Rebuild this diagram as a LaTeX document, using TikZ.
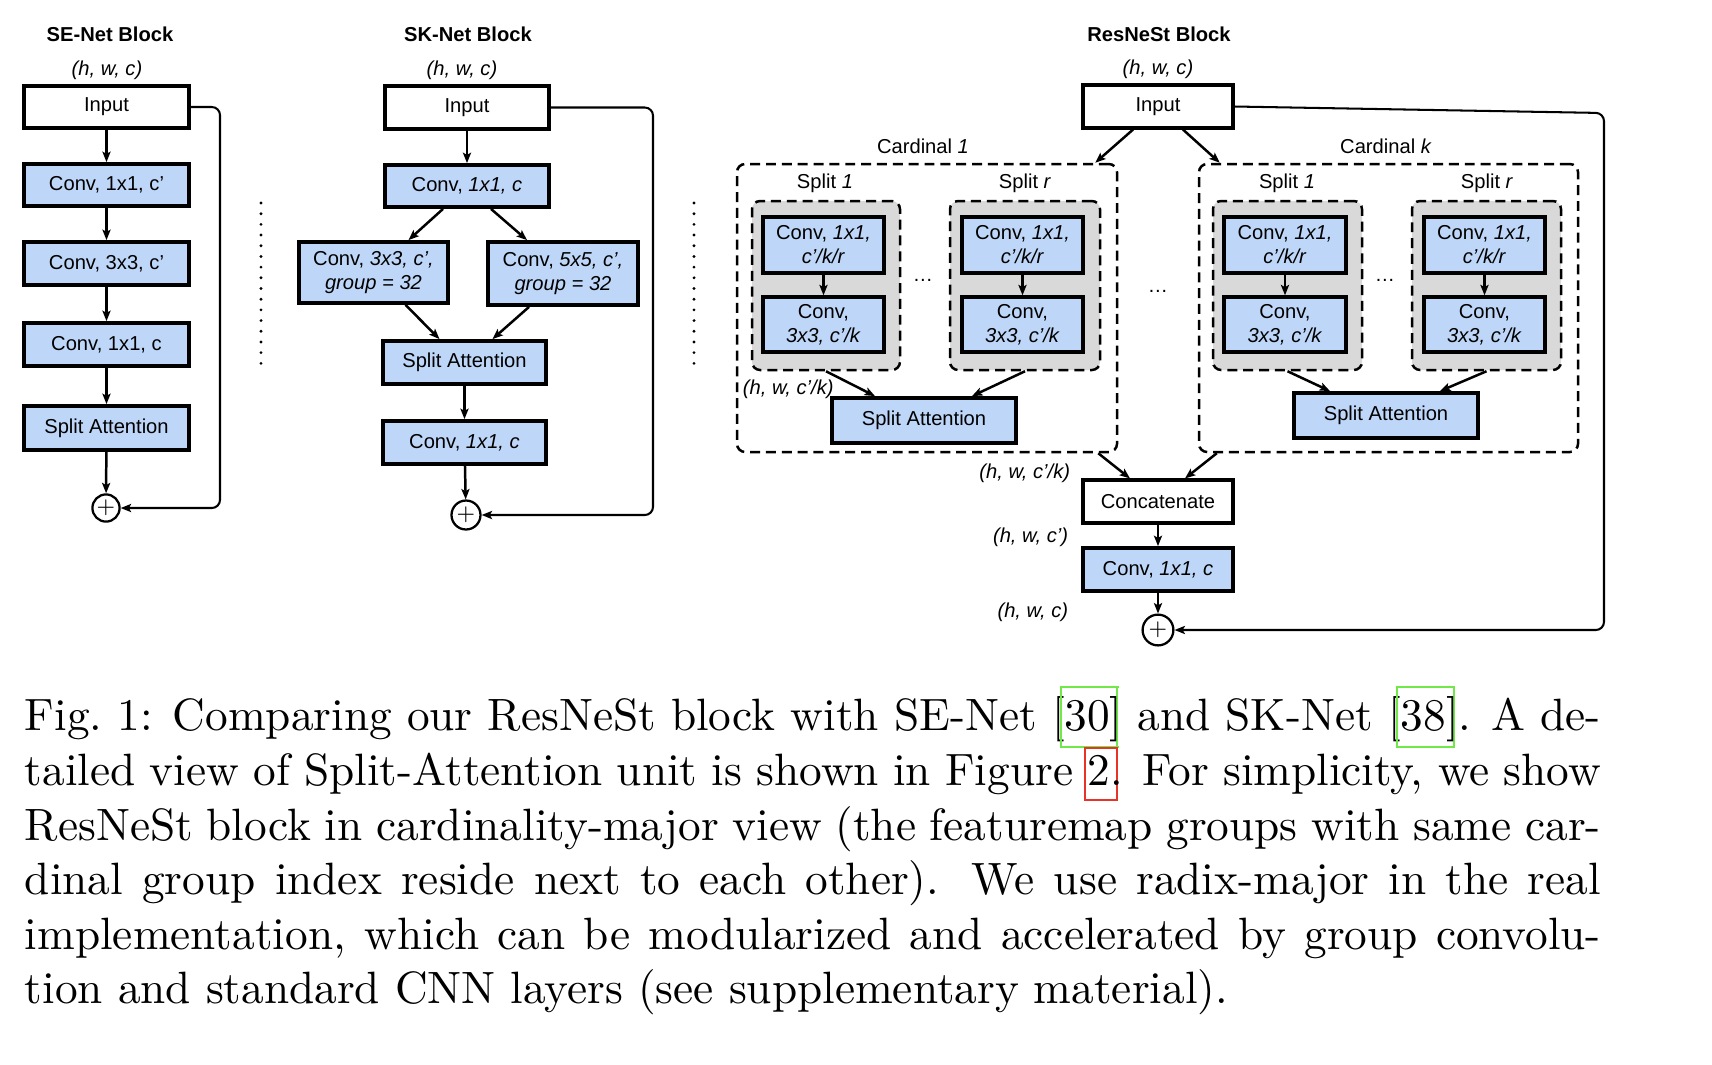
\documentclass[tikz,border=0pt]{standalone}
\usepackage{fontspec}
\newfontfamily\arialf{Liberation Sans}
\usetikzlibrary{arrows.meta,calc}
\definecolor{boxblue}{RGB}{190,215,248}
\definecolor{boxgray}{RGB}{217,217,217}
\definecolor{lnkgreen}{RGB}{112,232,72}
\definecolor{lnkred}{RGB}{232,52,40}
% link box: colour, height, depth, horizontal pad, text
\newcommand\lnk[5]{\rlap{\smash{\kern-#4\textcolor{#1}{\fboxsep=0pt\fboxrule=0.45pt\fbox{\rule[-#3]{0pt}{\dimexpr#2+#3\relax}\kern#4\phantom{#5}\kern#4}}}}#5}
\newcommand\dfont{\arialf\fontsize{4.45}{5.3}\selectfont}
% box from corner (x1,y1) to (x2,y2), in pixel units
\newcommand\bx[7]{\node[#1, minimum width={(#5-#3)*0.2208pt}, minimum height={(#6-#4)*0.2208pt}] (#2) at ({(#3+#5)/2},{(#4+#6)/2}) {#7};}
\begin{document}
\begin{tikzpicture}[x=0.2208pt,y=-0.2208pt,
  base/.style={draw, line width=0.85pt, inner sep=0pt, font=\dfont, align=center},
  blue/.style={base, fill=boxblue},
  inbox/.style={base, fill=white, line width=0.7pt},
  inner/.style={base, fill=boxblue, line width=0.75pt},
  card/.style={draw, dash pattern=on 2.2pt off 1.3pt, line width=0.55pt, rounded corners=1.8pt, inner sep=0pt},
  gray/.style={card, fill=boxgray},
  arr/.style={-{Stealth[length=2.3pt,width=1.8pt,inset=0.5pt]}, line width=0.55pt},
  skip/.style={arr, line width=0.45pt, rounded corners=1.8pt},
  plus/.style={circle, draw, fill=white, line width=0.5pt, minimum size=6.4pt, inner sep=0pt, font=\fontsize{4.2}{4.2}\selectfont},
  lbl/.style={font=\dfont\itshape, inner sep=0pt},
  txt/.style={font=\dfont, inner sep=0pt},
  ttl/.style={font=\dfont\bfseries, inner sep=0pt},
  sep/.style={line width=0.7pt, line cap=round, dash pattern=on 0pt off 2.36pt}
]
\useasboundingbox (0,0) rectangle (1712,1064);

% ---------------- SE-Net ----------------
\node[ttl] (se_t) at (110,34) {SE-Net Block};
\node[lbl] (se_d) at (107,70) {(h, w, c)};
\bx{inbox}{se_in}{24}{86}{189}{128}{Input}
\bx{blue}{se1}{24}{164}{189}{206}{Conv, 1x1, c’}
\bx{blue}{se2}{24}{242}{189}{285}{Conv, 3x3, c’}
\bx{blue}{se3}{24}{323}{189}{366}{Conv, 1x1, c}
\bx{blue}{se4}{24}{406}{189}{450}{Split Attention}
\node[plus, minimum size=6pt] (se_p) at (106,508) {+};
\draw[arr] (se_in) -- (se1);
\draw[arr] (se1) -- (se2);
\draw[arr] (se2) -- (se3);
\draw[arr] (se3) -- (se4);
\draw[arr] (se4) -- (se_p);
\coordinate (se_k) at (220,107);
\draw[skip] (se_in.east) -- (se_in.east -| se_k) -- (se_k |- se_p) -- (se_p.east);

\coordinate (d1a) at (261,203);
\coordinate (d1b) at (261,368);
\draw[sep] (d1a) -- (d1b);

% ---------------- SK-Net ----------------
\node[ttl] (sk_t) at (468,34) {SK-Net Block};
\node[lbl] (sk_d) at (462,70) {(h, w, c)};
\bx{inbox}{sk_in}{385}{86}{549}{129}{Input}
\bx{blue}{sk1}{385}{165}{549}{207}{Conv, \textit{1x1, c}}
\bx{blue}{skL}{299}{242}{448}{303}{Conv, \textit{3x3, c’,}\\\textit{group = 32}}
\bx{blue}{skR}{488}{242}{638}{305}{Conv, \textit{5x5, c’,}\\\textit{group = 32}}
\bx{blue}{skSA}{383}{341}{546}{384}{Split Attention}
\bx{blue}{sk2}{383}{421}{546}{464}{Conv, \textit{1x1, c}}
\node[plus] (sk_p) at (466,515) {+};
\draw[arr] (sk_in) -- (sk1);
\draw[arr] ($(sk1.south)+(-24,0)$) -- ($(skL.north)+(35,0)$);
\draw[arr] ($(sk1.south)+(24,0)$) -- ($(skR.north)+(-36,0)$);
\draw[arr] ($(skL.south)+(32,0)$) -- ($(skSA.north)+(-25,0)$);
\draw[arr] ($(skR.south)+(-34,0)$) -- ($(skSA.north)+(28,0)$);
\draw[arr] (skSA) -- (sk2);
\draw[arr] (sk2) -- (sk_p);
\coordinate (sk_k) at (653,107);
\draw[skip] (sk_in.east) -- (sk_in.east -| sk_k) -- (sk_k |- sk_p) -- (sk_p.east);

\coordinate (d2a) at (694,203);
\coordinate (d2b) at (694,368);
\draw[sep] (d2a) -- (d2b);

% ---------------- ResNeSt ----------------
\node[ttl] (rs_t) at (1159,34) {ResNeSt Block};
\node[lbl] (rs_d) at (1158,69) {(h, w, c)};
\bx{inbox}{rs_in}{1083}{85}{1233}{128}{Input}

\bx{card}{c1}{737}{164}{1117}{452}{}
\bx{card}{ck}{1199}{164}{1578}{452}{}
\node[txt] (c1_t) at (923,146) {Cardinal \textit{1}};
\node[txt] (ck_t) at (1386,146) {Cardinal \textit{k}};

\bx{gray}{g11}{752}{201}{900}{370}{}
\bx{gray}{g1r}{950}{201}{1100}{370}{}
\bx{gray}{gk1}{1213}{201}{1362}{370}{}
\bx{gray}{gkr}{1412}{201}{1561}{370}{}
\node[txt] (s11) at (825,183) {Split \textit{1}};
\node[txt] (s1r) at (1025,183) {Split \textit{r}};
\node[txt] (sk1l) at (1287,183) {Split \textit{1}};
\node[txt] (skrl) at (1487,183) {Split \textit{r}};

\bx{inner}{a11}{763}{217}{884}{273}{Conv, \textit{1x1,}\\\textit{c’/k/r}}
\bx{inner}{b11}{763}{297}{884}{352}{Conv,\\\textit{3x3, c’/k}}
\bx{inner}{a1r}{962}{217}{1083}{273}{Conv, \textit{1x1,}\\\textit{c’/k/r}}
\bx{inner}{b1r}{962}{297}{1083}{352}{Conv,\\\textit{3x3, c’/k}}
\bx{inner}{ak1}{1224}{217}{1346}{273}{Conv, \textit{1x1,}\\\textit{c’/k/r}}
\bx{inner}{bk1}{1224}{297}{1346}{352}{Conv,\\\textit{3x3, c’/k}}
\bx{inner}{akr}{1424}{217}{1545}{273}{Conv, \textit{1x1,}\\\textit{c’/k/r}}
\bx{inner}{bkr}{1424}{297}{1545}{352}{Conv,\\\textit{3x3, c’/k}}
\draw[arr] (a11) -- (b11);
\draw[arr] (a1r) -- (b1r);
\draw[arr] (ak1) -- (bk1);
\draw[arr] (akr) -- (bkr);

\node[txt] (dt1) at (923,280) {…};
\node[txt] (dtk) at (1385,280) {…};
\node[txt] (dtm) at (1158,291) {…};

\bx{blue}{sa1}{832}{398}{1016}{443}{Split Attention}
\bx{blue}{sak}{1294}{393}{1478}{438}{Split Attention}
\node[lbl, anchor=west] (l1) at (742,389) {(h, w, c’/k)};
\draw[arr] (g11.south) -- ($(sa1.north)+(-49,0)$);
\draw[arr] (g1r.south) -- ($(sa1.north)+(48,0)$);
\draw[arr] (gk1.south) -- ($(sak.north)+(-56,0)$);
\draw[arr] (gkr.south) -- ($(sak.north)+(54,0)$);

\draw[arr] ($(rs_in.south)+(-25,0)$) -- ($(c1.north east)+(-23,0)$);
\draw[arr] ($(rs_in.south)+(25,0)$) -- ($(ck.north west)+(22,0)$);

\bx{inbox}{cc}{1083}{480}{1233}{523}{Concatenate}
\bx{blue}{rs2}{1083}{548}{1233}{591}{Conv, \textit{1x1, c}}
\node[plus, minimum size=6.8pt] (rs_p) at (1158,630) {+};
\draw[arr] ($(c1.south east)+(-20,0)$) -- ($(cc.north)+(-28,0)$);
\draw[arr] ($(ck.south west)+(19,0)$) -- ($(cc.north)+(27,0)$);
\draw[arr] (cc) -- (rs2);
\draw[arr] (rs2) -- (rs_p);
\node[lbl, anchor=east] (l2) at (1071,473) {(h, w, c’/k)};
\node[lbl, anchor=east] (l3) at (1069,537) {(h, w, c’)};
\node[lbl, anchor=east] (l4) at (1069,612) {(h, w, c)};
\coordinate (rs_k) at (1604,113);
\draw[skip] (rs_in.east) -- (rs_k) -- (rs_k |- rs_p) -- (rs_p.east);

% ---------------- caption ----------------
\node[anchor=north west, inner sep=0pt, align=left, font=\fontsize{10}{12.06}\selectfont] (cap) at (24,696) {%
\hbox to 348pt{Fig.~1: Comparing our ResNeSt block with SE-Net [\lnk{lnkgreen}{9.5pt}{3.3pt}{1pt}{30}] and SK-Net [\lnk{lnkgreen}{9.5pt}{3.3pt}{1pt}{38}]. A de-}\\
\hbox to 348pt{tailed view of Split-Attention unit is shown in Figure \lnk{lnkred}{8pt}{2.9pt}{0.8pt}{2}. For simplicity, we show}\\
\hbox to 348pt{ResNeSt block in cardinality-major view (the featuremap groups with same car-}\\
\hbox to 348pt{dinal group index reside next to each other). We use radix-major in the real}\\
\hbox to 348pt{implementation, which can be modularized and accelerated by group convolu-}\\
tion and standard CNN layers (see supplementary material).};
\end{tikzpicture}
\end{document}
